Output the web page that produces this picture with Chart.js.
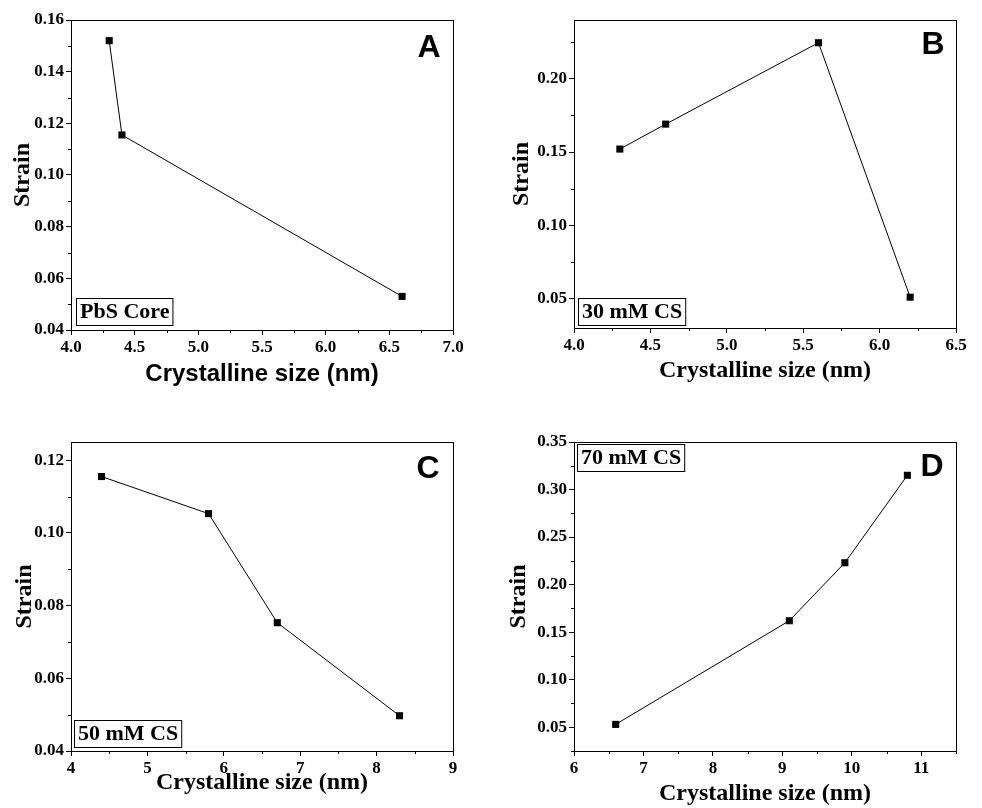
<!DOCTYPE html>
<html>
<head>
<meta charset="utf-8">
<script src="https://cdn.jsdelivr.net/npm/chart.js@4.4.0/dist/chart.umd.min.js"></script>
<style>
  html, body { margin: 0; padding: 0; background: #fff; }
  #wrap { position: relative; width: 982px; height: 808px; }
  canvas { position: absolute; }
</style>
</head>
<body>
<div id="wrap">
  <canvas id="panelA" width="491" height="404" style="left:0;top:0"></canvas>
  <canvas id="panelB" width="491" height="404" style="left:491px;top:0"></canvas>
  <canvas id="panelC" width="491" height="404" style="left:0;top:404px"></canvas>
  <canvas id="panelD" width="491" height="404" style="left:491px;top:404px"></canvas>
</div>
<script>
// crystalline size (nm) and strain
const sizeA = [4.3, 4.4, 6.6];
const strainA = [0.152, 0.1155, 0.053];
const sizeB = [4.3, 4.6, 5.6, 6.2];
const strainB = [0.152, 0.169, 0.2245, 0.051];
const sizeC = [4.4, 5.8, 6.7, 8.3];
const strainC = [0.1155, 0.1053, 0.0753, 0.0497];
const sizeD = [6.6, 9.1, 9.9, 10.8];
const strainD = [0.053, 0.162, 0.223, 0.315];

// labelled ticks
const xLabelsA = ['4.0', '4.5', '5.0', '5.5', '6.0', '6.5', '7.0'];
const yLabelsA = ['0.04', '0.06', '0.08', '0.10', '0.12', '0.14', '0.16'];
const xLabelsB = ['4.0', '4.5', '5.0', '5.5', '6.0', '6.5'];
const yLabelsB = ['0.05', '0.10', '0.15', '0.20'];
const xLabelsC = ['4', '5', '6', '7', '8', '9'];
const yLabelsC = ['0.04', '0.06', '0.08', '0.10', '0.12'];
const xLabelsD = ['6', '7', '8', '9', '10', '11'];
const yLabelsD = ['0.05', '0.10', '0.15', '0.20', '0.25', '0.30', '0.35'];

const serif = '"Liberation Serif", "Times New Roman", serif';
const sans = '"Liberation Sans", Arial, sans-serif';

// majors from the label list, one minor tick halfway between
function tickValues(labels, min, max) {
  const vals = labels.map(parseFloat);
  const step = (vals[1] - vals[0]) / 2;
  const out = [];
  for (let v = vals[0]; v >= min - 1e-9; v -= step) out.unshift(+v.toFixed(6));
  for (let v = vals[0] + step; v <= max + 1e-9; v += step) out.push(+v.toFixed(6));
  return out;
}

function labelFor(labels, value) {
  const hit = labels.find(l => Math.abs(parseFloat(l) - value) < 1e-7);
  return hit === undefined ? '' : hit;
}

const majorColor = c => (c.tick && c.tick.label === '') ? 'rgba(0,0,0,0)' : '#000';

const panelDeco = {
  id: 'panelDeco',
  afterDraw(chart, args, opts) {
    const ctx = chart.ctx;
    const a = chart.chartArea;
    ctx.save();
    ctx.strokeStyle = '#000';
    ctx.lineWidth = 1;
    // frame
    ctx.strokeRect(a.left + 0.5, a.top + 0.5, a.right - a.left, a.bottom - a.top);
    // short minor ticks
    const xs = chart.scales.x, ys = chart.scales.y;
    ctx.beginPath();
    xs.ticks.forEach(t => {
      if (t.label !== '') return;
      const px = Math.round(xs.getPixelForValue(t.value)) + 0.5;
      ctx.moveTo(px, a.bottom);
      ctx.lineTo(px, a.bottom + 3);
    });
    ys.ticks.forEach(t => {
      if (t.label !== '') return;
      const py = Math.round(ys.getPixelForValue(t.value)) + 0.5;
      ctx.moveTo(a.left - 3, py);
      ctx.lineTo(a.left, py);
    });
    ctx.stroke();
    // panel letter
    ctx.fillStyle = '#000';
    ctx.font = 'bold 32px ' + sans;
    ctx.textAlign = 'center';
    ctx.textBaseline = 'middle';
    ctx.fillText(opts.letter, a.right - opts.letterDx, a.top + opts.letterDy);
    // boxed sample name
    ctx.font = 'bold 22px ' + serif;
    const w = ctx.measureText(opts.name).width + 7;
    const h = 27;
    const x = a.left + opts.boxDx;
    const y = opts.boxTop ? a.top + opts.boxDy : a.bottom - opts.boxDy - h;
    ctx.strokeRect(x + 0.5, y + 0.5, w, h);
    ctx.textAlign = 'left';
    ctx.fillText(opts.name, x + 4, y + h / 2 + 1);
    ctx.restore();
  }
};

function makePanel(id, xs, ys, xLabels, yLabels, xr, yr, lay, deco) {
  const points = xs.map((x, i) => ({x: x, y: ys[i]}));
  const xTicks = tickValues(xLabels, xr[0], xr[1]);
  const yTicks = tickValues(yLabels, yr[0], yr[1]);
  const tickStyle = {color: '#000', font: {family: serif, size: 17, weight: 'bold'}};
  return new Chart(document.getElementById(id), {
    type: 'line',
    data: {
      datasets: [{
        data: points,
        borderColor: '#000',
        borderWidth: 1,
        pointStyle: 'rect',
        pointRadius: 5,
        pointBackgroundColor: '#000',
        pointBorderWidth: 0,
        tension: 0
      }]
    },
    options: {
      responsive: false,
      animation: false,
      layout: {padding: {left: 0, top: lay.top, right: lay.right, bottom: 0}},
      plugins: {
        legend: {display: false},
        tooltip: {enabled: false},
        panelDeco: deco
      },
      scales: {
        x: {
          type: 'linear',
          min: xr[0],
          max: xr[1],
          afterBuildTicks: axis => { axis.ticks = xTicks.map(v => ({value: v})); },
          afterFit: scale => { scale.height = lay.xh; },
          grid: {drawOnChartArea: false, drawTicks: true, tickLength: 5, tickColor: majorColor, color: '#000'},
          border: {display: true, color: '#000', width: 1},
          ticks: Object.assign({
            autoSkip: false, maxRotation: 0, padding: 2,
            callback: v => labelFor(xLabels, v)
          }, tickStyle),
          title: {
            display: true,
            text: 'Crystalline size (nm)',
            color: '#000',
            font: lay.xFont,
            padding: {top: 0, bottom: lay.xPad}
          }
        },
        y: {
          type: 'linear',
          min: yr[0],
          max: yr[1],
          afterBuildTicks: axis => { axis.ticks = yTicks.map(v => ({value: v})); },
          afterFit: scale => { scale.width = lay.yw; },
          grid: {drawOnChartArea: false, drawTicks: true, tickLength: 5, tickColor: majorColor, color: '#000'},
          border: {display: true, color: '#000', width: 1},
          ticks: Object.assign({
            autoSkip: false, padding: 2,
            callback: v => labelFor(yLabels, v)
          }, tickStyle),
          title: {
            display: true,
            text: 'Strain',
            color: '#000',
            font: {family: serif, size: 24, weight: 'bold'},
            padding: {top: lay.yPad, bottom: 0}
          }
        }
      }
    },
    plugins: [panelDeco]
  });
}

const serifTitle = {family: serif, size: 24, weight: 'bold'};

makePanel('panelA', sizeA, strainA, xLabelsA, yLabelsA, [4, 7], [0.04, 0.16],
  {top: 20, right: 38, xh: 74, yw: 71, xPad: 15, yPad: 8, xFont: {family: sans, size: 24, weight: 'bold'}},
  {letter: 'A', letterDx: 24, letterDy: 28, name: 'PbS Core', boxDx: 5, boxDy: 5, boxTop: false});

makePanel('panelB', sizeB, strainB, xLabelsB, yLabelsB, [4, 6.5], [0.03, 0.24],
  {top: 20, right: 26, xh: 76, yw: 83, xPad: 19, yPad: 16, xFont: serifTitle},
  {letter: 'B', letterDx: 23, letterDy: 25, name: '30 mM CS', boxDx: 4, boxDy: 3, boxTop: false});

makePanel('panelC', sizeC, strainC, xLabelsC, yLabelsC, [4, 9], [0.04, 0.125],
  {top: 38, right: 38, xh: 57, yw: 71, xPad: 11, yPad: 10, xFont: serifTitle},
  {letter: 'C', letterDx: 25, letterDy: 27, name: '50 mM CS', boxDx: 3, boxDy: 4, boxTop: false});

makePanel('panelD', sizeD, strainD, xLabelsD, yLabelsD, [6, 11.5], [0.025, 0.35],
  {top: 38, right: 26, xh: 57, yw: 83, xPad: 0, yPad: 13, xFont: serifTitle},
  {letter: 'D', letterDx: 24, letterDy: 25, name: '70 mM CS', boxDx: 3, boxDy: 2, boxTop: true});
</script>
</body>
</html>
